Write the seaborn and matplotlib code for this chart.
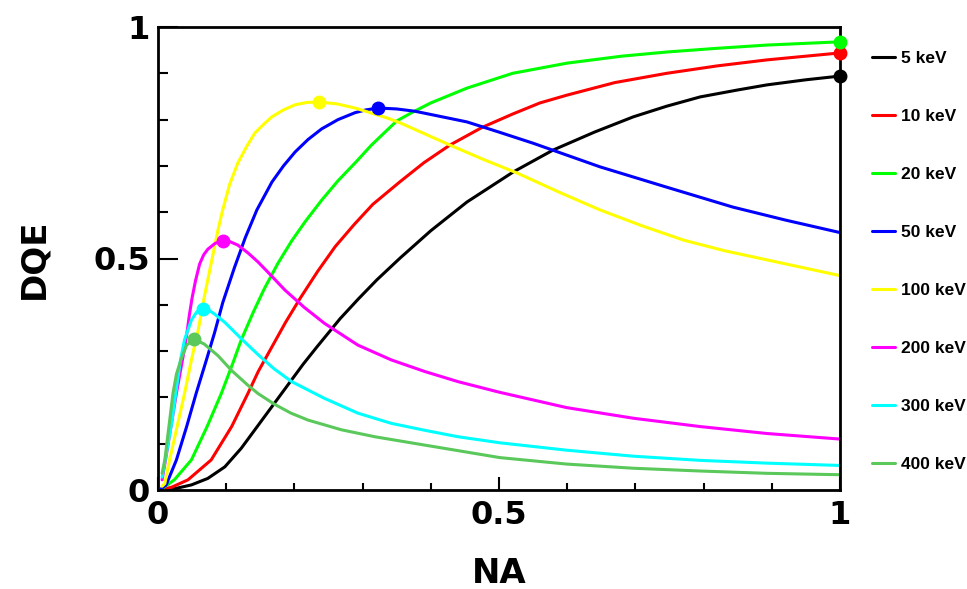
import matplotlib
matplotlib.use("Agg")
import matplotlib.pyplot as plt
import seaborn as sns
import pandas as pd
from matplotlib.ticker import MultipleLocator

# ---------------- data ----------------
labels = ["5 keV", "10 keV", "20 keV", "50 keV", "100 keV", "200 keV", "300 keV", "400 keV"]
colors = ["#000000", "#ff0000", "#00ff00", "#0000ff", "#ffff00", "#ff00ff", "#00ffff", "#5ac85a"]

x_5 = [0.005, 0.025, 0.049, 0.073, 0.098, 0.122, 0.147, 0.169, 0.194, 0.213, 0.233, 0.267, 0.294,
       0.321, 0.355, 0.400, 0.453, 0.521, 0.579, 0.640, 0.697, 0.746, 0.795, 0.850, 0.893, 0.950, 1.0]
y_5 = [0.000, 0.003, 0.011, 0.025, 0.050, 0.090, 0.140, 0.184, 0.234, 0.272, 0.309, 0.370, 0.413,
       0.454, 0.501, 0.560, 0.622, 0.687, 0.734, 0.773, 0.806, 0.829, 0.849, 0.864, 0.875, 0.886, 0.894]

x_10 = [0.005, 0.020, 0.044, 0.078, 0.108, 0.132, 0.147, 0.167, 0.187, 0.208, 0.234, 0.260, 0.288,
        0.315, 0.355, 0.390, 0.428, 0.475, 0.520, 0.560, 0.600, 0.670, 0.746, 0.820, 0.893, 0.950, 1.0]
y_10 = [0.001, 0.006, 0.022, 0.065, 0.137, 0.209, 0.256, 0.309, 0.362, 0.413, 0.472, 0.526, 0.574,
        0.617, 0.666, 0.707, 0.745, 0.783, 0.812, 0.836, 0.853, 0.880, 0.900, 0.916, 0.929, 0.937, 0.944]

x_20 = [0.005, 0.024, 0.049, 0.072, 0.093, 0.110, 0.122, 0.140, 0.156, 0.176, 0.196, 0.216, 0.240,
        0.264, 0.290, 0.313, 0.350, 0.372, 0.400, 0.453, 0.520, 0.600, 0.680, 0.746, 0.820, 0.893, 1.0]
y_20 = [0.002, 0.022, 0.065, 0.137, 0.209, 0.275, 0.324, 0.385, 0.435, 0.490, 0.538, 0.580, 0.626,
        0.668, 0.708, 0.745, 0.797, 0.815, 0.836, 0.868, 0.900, 0.922, 0.937, 0.946, 0.954, 0.961, 0.968]

x_50 = [0.005, 0.012, 0.027, 0.042, 0.056, 0.071, 0.083, 0.095, 0.112, 0.128, 0.145, 0.167, 0.184,
        0.201, 0.220, 0.240, 0.264, 0.289, 0.305, 0.323, 0.350, 0.377, 0.453, 0.500, 0.550, 0.648,
        0.746, 0.843, 0.920, 1.0]
y_50 = [0.003, 0.011, 0.065, 0.137, 0.209, 0.281, 0.340, 0.405, 0.480, 0.545, 0.605, 0.665, 0.700,
        0.730, 0.757, 0.780, 0.800, 0.815, 0.821, 0.825, 0.823, 0.818, 0.795, 0.773, 0.749, 0.698,
        0.654, 0.611, 0.583, 0.556]

x_100 = [0.006, 0.010, 0.017, 0.028, 0.039, 0.049, 0.059, 0.068, 0.078, 0.088, 0.094, 0.105, 0.117,
         0.130, 0.142, 0.155, 0.167, 0.184, 0.201, 0.218, 0.236, 0.262, 0.289, 0.337, 0.355, 0.428,
         0.477, 0.526, 0.587, 0.648, 0.709, 0.770, 0.830, 0.893, 1.0]
y_100 = [0.008, 0.014, 0.065, 0.137, 0.209, 0.281, 0.346, 0.418, 0.490, 0.562, 0.600, 0.660, 0.706,
         0.742, 0.771, 0.790, 0.806, 0.821, 0.832, 0.837, 0.838, 0.834, 0.825, 0.803, 0.793, 0.745,
         0.714, 0.685, 0.644, 0.605, 0.571, 0.540, 0.517, 0.497, 0.463]

x_200 = [0.006, 0.011, 0.019, 0.027, 0.037, 0.042, 0.046, 0.050, 0.055, 0.061, 0.067, 0.073, 0.084,
         0.096, 0.106, 0.117, 0.132, 0.147, 0.166, 0.186, 0.214, 0.244, 0.293, 0.342, 0.391, 0.440,
         0.501, 0.599, 0.697, 0.795, 0.893, 1.0]
y_200 = [0.022, 0.065, 0.137, 0.209, 0.290, 0.335, 0.378, 0.415, 0.452, 0.488, 0.508, 0.520, 0.533,
         0.538, 0.536, 0.529, 0.512, 0.492, 0.463, 0.432, 0.395, 0.360, 0.313, 0.281, 0.256, 0.234,
         0.211, 0.178, 0.155, 0.137, 0.122, 0.110]

x_300 = [0.006, 0.013, 0.020, 0.029, 0.033, 0.039, 0.049, 0.057, 0.066, 0.075, 0.083, 0.098, 0.122,
         0.147, 0.170, 0.196, 0.244, 0.293, 0.342, 0.391, 0.440, 0.501, 0.599, 0.697, 0.795, 0.893, 1.0]
y_300 = [0.028, 0.085, 0.144, 0.240, 0.281, 0.325, 0.367, 0.385, 0.392, 0.388, 0.380, 0.362, 0.327,
         0.292, 0.262, 0.234, 0.198, 0.166, 0.144, 0.129, 0.115, 0.102, 0.086, 0.073, 0.064, 0.058, 0.053]

x_400 = [0.006, 0.010, 0.016, 0.022, 0.027, 0.034, 0.042, 0.053, 0.068, 0.088, 0.108, 0.132, 0.147,
         0.171, 0.195, 0.220, 0.269, 0.318, 0.391, 0.440, 0.501, 0.599, 0.697, 0.795, 0.893, 1.0]
y_400 = [0.036, 0.065, 0.137, 0.209, 0.250, 0.283, 0.313, 0.326, 0.315, 0.290, 0.258, 0.226, 0.208,
         0.185, 0.166, 0.151, 0.130, 0.115, 0.097, 0.085, 0.070, 0.056, 0.047, 0.041, 0.036, 0.033]

series_x = [x_5, x_10, x_20, x_50, x_100, x_200, x_300, x_400]
series_y = [y_5, y_10, y_20, y_50, y_100, y_200, y_300, y_400]

# maximum-DQE markers
peak_x = [1.0, 1.0, 1.0, 0.323, 0.236, 0.096, 0.066, 0.053]
peak_y = [0.894, 0.944, 0.968, 0.825, 0.838, 0.538, 0.392, 0.326]

tick_vals = [0, 0.5, 1]
tick_text = ["0", "0.5", "1"]

# ---------------- build table ----------------
rows = []
for lab, xs, ys in zip(labels, series_x, series_y):
    for xv, yv in zip(xs, ys):
        rows.append({"NA": xv, "DQE": yv, "E": lab})
df = pd.DataFrame(rows)

# ---------------- plot ----------------
sns.set_theme(style="white")
plt.rcParams["font.family"] = ["DejaVu Sans"]
plt.rcParams["text.color"] = "black"

W, H = 967, 589
fig = plt.figure(figsize=(W / 100, H / 100), dpi=100)
ax = fig.add_axes([158 / W, 99 / H, 682 / W, 463 / H])

sns.lineplot(data=df, x="NA", y="DQE", hue="E", hue_order=labels, palette=colors,
             estimator=None, sort=False, linewidth=2.2, legend=False, ax=ax)
for ln in ax.lines:
    ln.set_solid_joinstyle("round")

for px, py, c in zip(peak_x, peak_y, colors):
    ax.plot([px], [py], "o", color=c, markersize=9, clip_on=False, zorder=6)

ax.set_xlim(0, 1)
ax.set_ylim(0, 1)
ax.set_xticks(tick_vals, labels=tick_text, fontsize=23, fontweight="bold")
ax.set_yticks(tick_vals, labels=tick_text, fontsize=23, fontweight="bold")
ax.xaxis.set_minor_locator(MultipleLocator(0.1))
ax.yaxis.set_minor_locator(MultipleLocator(0.1))

ax.tick_params(axis="both", which="both", direction="in", top=False, right=False,
               bottom=True, left=True, color="black", width=1.5, labelcolor="black")
ax.tick_params(axis="x", which="major", length=9.4, pad=7.5)
ax.tick_params(axis="x", which="minor", length=5)
ax.tick_params(axis="y", which="major", length=14.4, pad=6)
ax.tick_params(axis="y", which="minor", length=7.2)

for sp in ax.spines.values():
    sp.set_visible(True)
    sp.set_color("black")
    sp.set_linewidth(2.0)

ax.set_xlabel("NA", fontsize=24.5, fontweight="bold", color="black")
ax.set_ylabel("DQE", fontsize=24.5, fontweight="bold", color="black")
ax.xaxis.set_label_coords(0.5, -0.1447)
ax.yaxis.set_label_coords(-0.158, 0.5)

handles = ax.lines[:len(labels)]
fig.legend(handles, labels, loc="upper left", bbox_to_anchor=(872 / W, 1 - 51 / H),
           frameon=False, labelcolor="black",
           prop={"family": "Liberation Sans", "weight": "bold", "size": 12.5},
           handlelength=1.35, handletextpad=0.3, labelspacing=2.47,
           borderpad=0, borderaxespad=0)

fig.savefig("out.png", dpi=100)
